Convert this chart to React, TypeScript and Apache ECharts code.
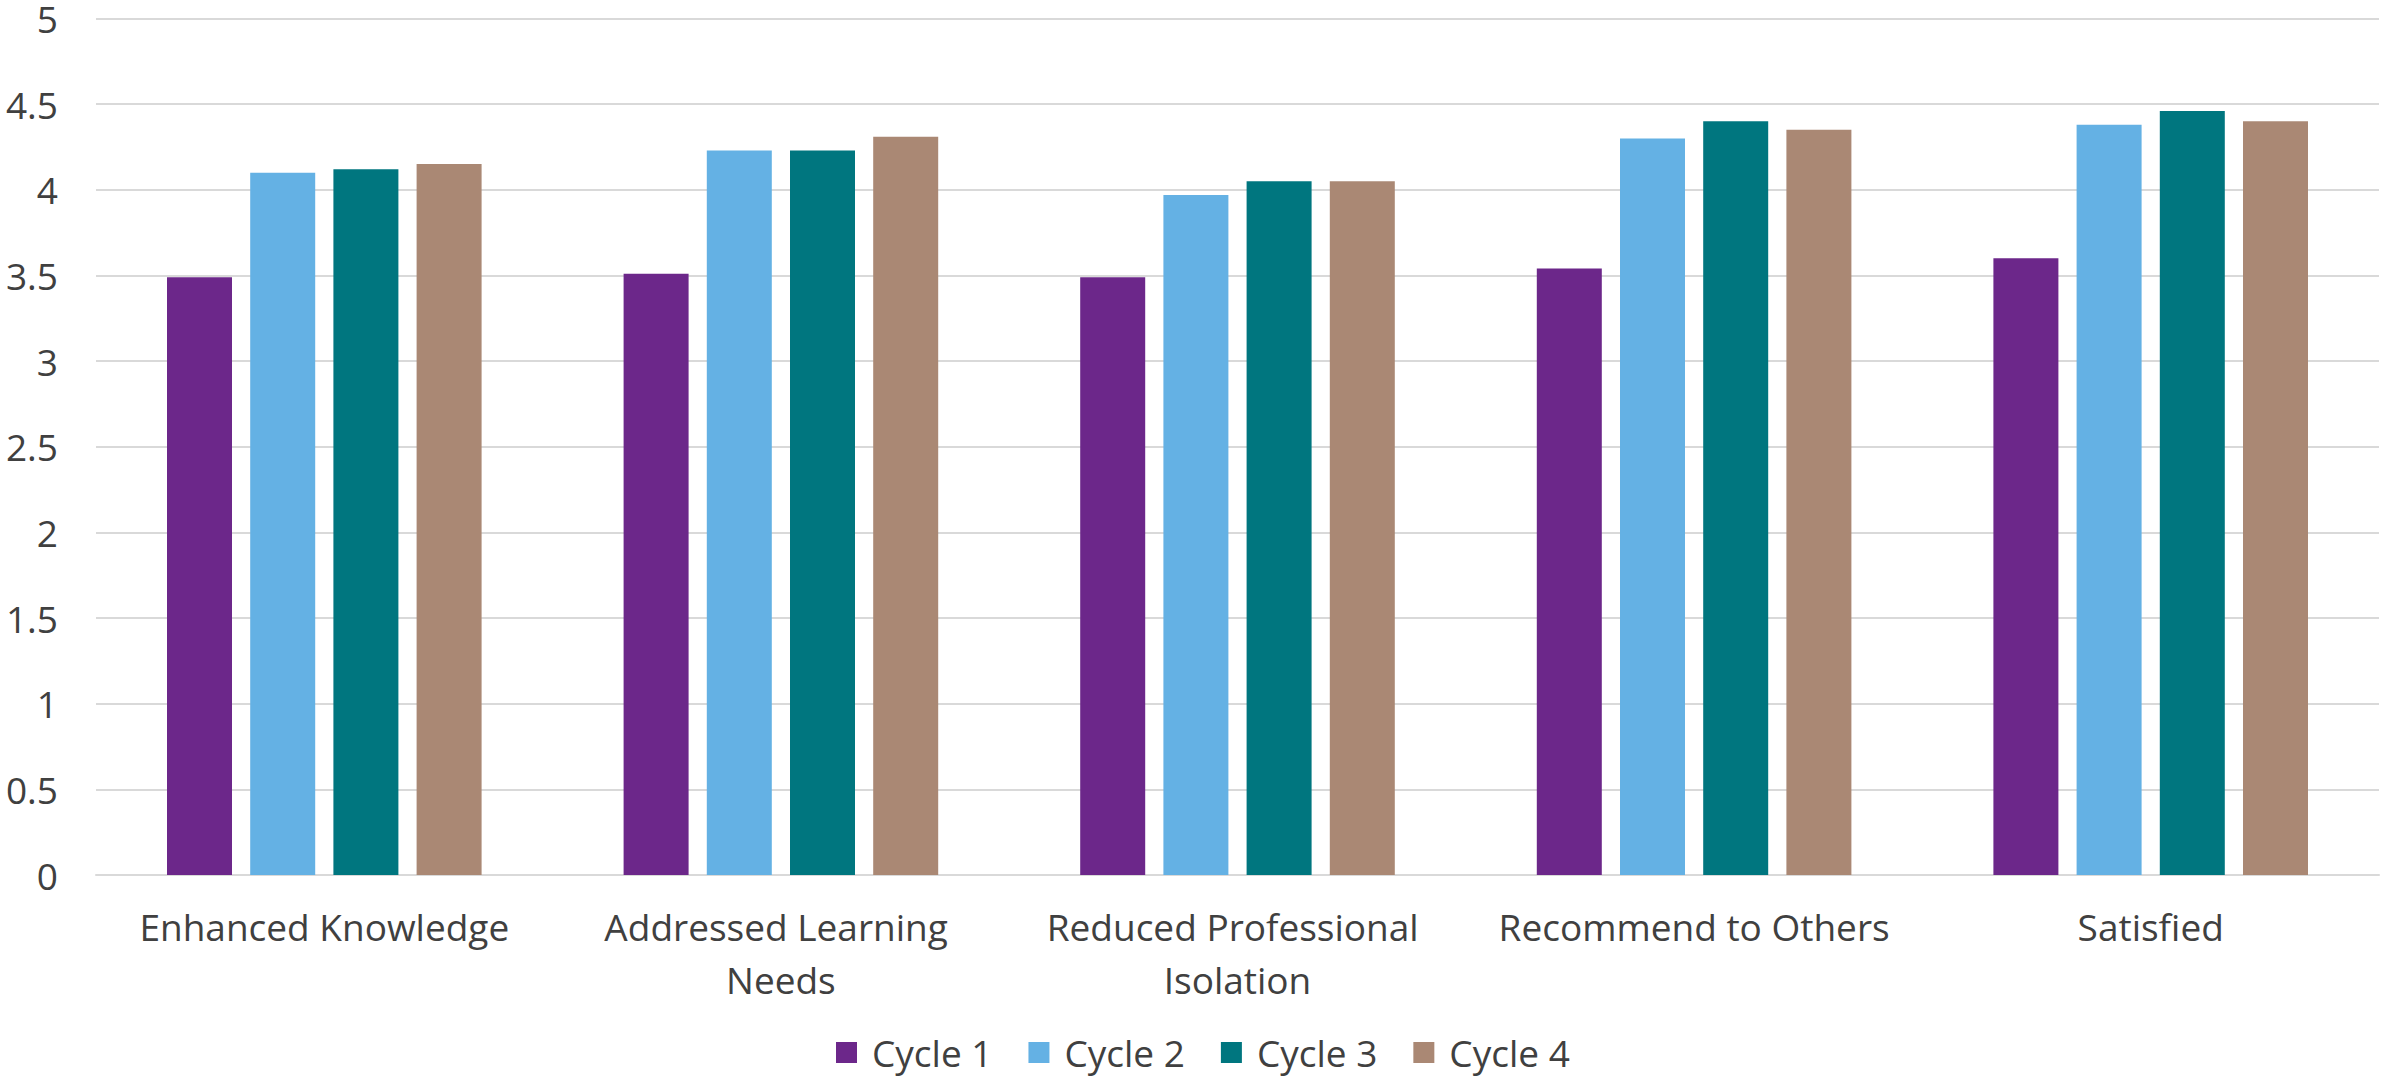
import React, { useEffect, useRef } from "react";
import * as echarts from "echarts";

// Survey outcome categories (x axis)
const categories = [
  "Enhanced Knowledge",
  "Addressed Learning Needs",
  "Reduced Professional Isolation",
  "Recommend to Others",
  "Satisfied",
];

// Mean scores per cycle
const cycle1 = [3.49, 3.51, 3.49, 3.54, 3.6];
const cycle2 = [4.1, 4.23, 3.97, 4.3, 4.38];
const cycle3 = [4.12, 4.23, 4.05, 4.4, 4.46];
const cycle4 = [4.15, 4.31, 4.05, 4.35, 4.4];

const seriesNames = ["Cycle 1", "Cycle 2", "Cycle 3", "Cycle 4"];
const seriesColors = ["#6C278A", "#64B1E4", "#00767F", "#AA8874"];

const FONT = "'Open Sans', 'Noto Sans', sans-serif";
const TEXT_COLOR = "#404040";

export default function App() {
  const ref = useRef<HTMLDivElement>(null);

  useEffect(() => {
    if (!ref.current) return;
    const chart = echarts.init(ref.current, undefined, { renderer: "svg" });
    const values = [cycle1, cycle2, cycle3, cycle4];

    chart.setOption({
      animation: false,
      backgroundColor: "#FFFFFF",
      textStyle: { fontFamily: FONT },
      grid: { left: 96, right: 2, top: 18, bottom: 202, containLabel: false },
      legend: {
        data: seriesNames,
        left: 831,
        top: 1029,
        itemWidth: 21,
        itemHeight: 21,
        itemGap: 36,
        icon: "rect",
        textStyle: {
          fontFamily: FONT,
          fontSize: 37,
          color: TEXT_COLOR,
          lineHeight: 37,
          padding: [0, 0, 0, 10],
        },
      },
      xAxis: {
        type: "category",
        data: categories,
        axisLine: { show: true, lineStyle: { color: "#D9D9D9", width: 2 } },
        axisTick: { show: false },
        axisLabel: {
          fontFamily: FONT,
          fontSize: 37,
          color: TEXT_COLOR,
          margin: 25,
          lineHeight: 53,
          width: 420,
          overflow: "break",
          interval: 0,
        },
      },
      yAxis: {
        type: "value",
        min: 0,
        max: 5,
        interval: 0.5,
        axisLine: { show: false },
        axisTick: { show: false },
        axisLabel: {
          fontFamily: FONT,
          fontSize: 37,
          color: TEXT_COLOR,
          margin: 38,
        },
        splitLine: { lineStyle: { color: "#D9D9D9", width: 2 } },
      },
      series: seriesNames.map((name, i) => ({
        name,
        type: "bar",
        data: values[i],
        barWidth: 65,
        barGap: "28%",
        itemStyle: { color: seriesColors[i] },
      })),
    });

    return () => chart.dispose();
  }, []);

  return (
    <div
      ref={ref}
      style={{ position: "fixed", left: 0, top: 0, width: 2381, height: 1077 }}
    />
  );
}
